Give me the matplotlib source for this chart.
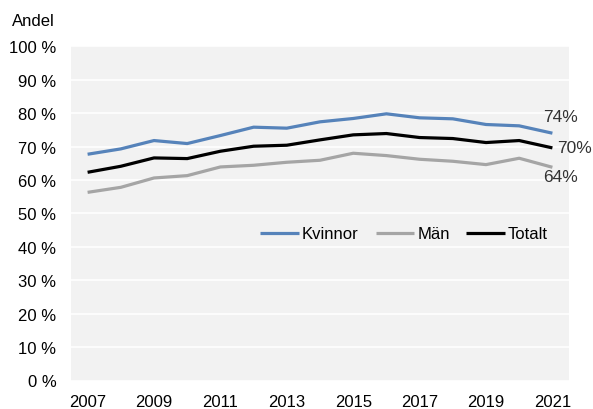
import matplotlib.pyplot as plt

plt.rcParams['font.family'] = ['Liberation Sans', 'DejaVu Sans']

years = list(range(2007, 2022))
kvinnor = [67.7, 69.3, 71.8, 70.9, 73.3, 75.8, 75.5, 77.4, 78.4, 79.8, 78.6, 78.3, 76.6, 76.2, 74.0]
man = [56.3, 57.8, 60.6, 61.3, 63.9, 64.4, 65.3, 65.9, 68.0, 67.3, 66.2, 65.6, 64.6, 66.5, 63.8]
totalt = [62.3, 64.1, 66.6, 66.4, 68.6, 70.1, 70.4, 72.0, 73.5, 73.9, 72.7, 72.4, 71.2, 71.8, 69.6]
end_labels = ["74%", "64%", "70%"]

fig = plt.figure(figsize=(5.93, 4.10), dpi=100)
ax = fig.add_axes([71 / 593, 28.5 / 410, 498 / 593, 334.2 / 410])
ax.set_facecolor("#F2F2F2")

ax.plot(years, kvinnor, color="#5683BA", linewidth=2.3, label="Kvinnor", solid_capstyle="butt")
ax.plot(years, man, color="#A5A5A5", linewidth=2.3, label="Män", solid_capstyle="butt")
ax.plot(years, totalt, color="#000000", linewidth=2.3, label="Totalt", solid_capstyle="butt")

ax.annotate(end_labels[0], (years[-1], kvinnor[-1]), xytext=(-6.5, 12), textcoords="offset points",
            fontsize=12.5, color="#333333", ha="left", va="center")
ax.annotate(end_labels[2], (years[-1], totalt[-1]), xytext=(3.6, 0), textcoords="offset points",
            fontsize=12.5, color="#333333", ha="left", va="center")
ax.annotate(end_labels[1], (years[-1], man[-1]), xytext=(-7, -6.3), textcoords="offset points",
            fontsize=12.5, color="#333333", ha="left", va="center")

ax.set_xlim(2006.5, 2021.5)
ax.set_ylim(0, 100)
ax.set_yticks(range(0, 101, 10))
ax.set_yticklabels([f"{v} %" for v in range(0, 101, 10)])
ax.set_xticks(range(2007, 2022, 2))
ax.grid(axis="y", color="white", linewidth=1.2)
ax.set_axisbelow(True)
for s in ax.spines.values():
    s.set_visible(False)
ax.tick_params(axis="both", length=0, labelsize=12, colors="black")
ax.tick_params(axis="y", pad=10.5)
ax.tick_params(axis="x", pad=10)

fig.text(11.5 / 593, 1 - 21.7 / 410, "Andel", fontsize=12, ha="left", va="center")

ax.legend(loc="center right", bbox_to_anchor=(548 / 593, 1 - 235 / 410), bbox_transform=fig.transFigure,
          ncol=3, frameon=False, fontsize=12, borderpad=0, borderaxespad=0,
          handlelength=2.3, handletextpad=0.2, columnspacing=1.0)

fig.savefig("out.png", dpi=100)
